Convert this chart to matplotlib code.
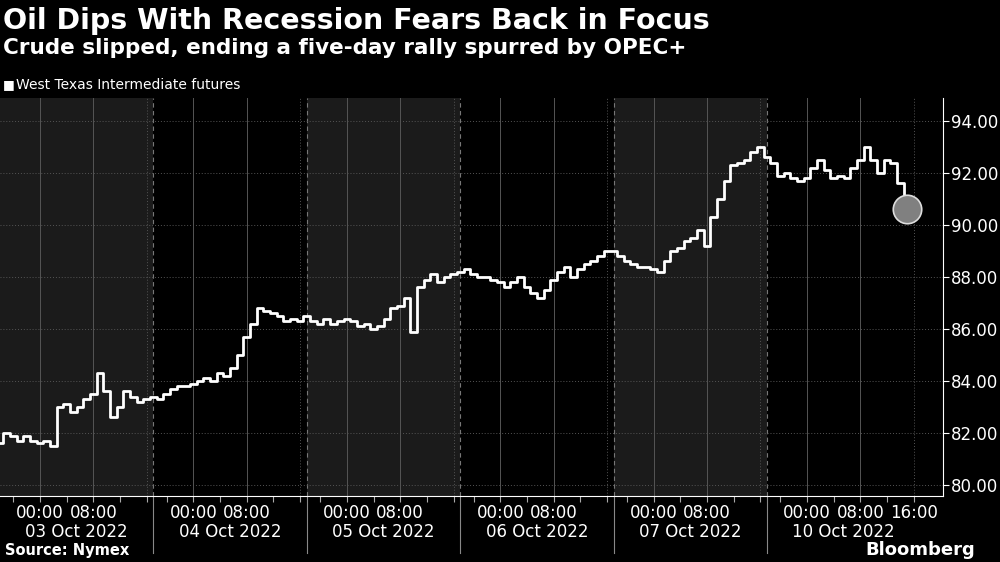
import matplotlib
matplotlib.use("Agg")
import matplotlib.pyplot as plt
import numpy as np

days = ["03 Oct 2022", "04 Oct 2022", "05 Oct 2022", "06 Oct 2022", "07 Oct 2022", "10 Oct 2022"]
hours_per_day = 23  # session 18:00 -> 17:00
prices = [
    81.6, 82.0, 81.9, 81.7, 81.9, 81.7, 81.6, 81.7, 81.5, 83.0, 83.1, 82.8, 83.0, 83.3, 83.5, 84.3, 83.6, 82.6, 83.0, 83.6, 83.4, 83.2, 83.3,
    83.4, 83.3, 83.5, 83.7, 83.8, 83.8, 83.9, 84.0, 84.1, 84.0, 84.3, 84.2, 84.5, 85.0, 85.7, 86.2, 86.8, 86.7, 86.6, 86.5, 86.3, 86.4, 86.3,
    86.5, 86.3, 86.2, 86.4, 86.2, 86.3, 86.4, 86.3, 86.1, 86.2, 86.0, 86.1, 86.4, 86.8, 86.9, 87.2, 85.9, 87.6, 87.9, 88.1, 87.8, 88.0, 88.1,
    88.2, 88.3, 88.1, 88.0, 88.0, 87.9, 87.8, 87.6, 87.8, 88.0, 87.6, 87.4, 87.2, 87.5, 87.9, 88.2, 88.4, 88.0, 88.3, 88.5, 88.6, 88.8, 89.0,
    89.0, 88.8, 88.6, 88.5, 88.4, 88.4, 88.3, 88.2, 88.6, 89.0, 89.1, 89.4, 89.5, 89.8, 89.2, 90.3, 91.0, 91.7, 92.3, 92.4, 92.5, 92.8, 93.0,
    92.6, 92.4, 91.9, 92.0, 91.8, 91.7, 91.8, 92.2, 92.5, 92.1, 91.8, 91.9, 91.8, 92.2, 92.5, 93.0, 92.5, 92.0, 92.5, 92.4, 91.6, 90.6,
]
yticks = [80, 82, 84, 86, 88, 90, 92, 94]

fig = plt.figure(figsize=(10, 5.62), dpi=100, facecolor="black")
ax = fig.add_axes([0, 0.1174, 0.943, 0.7082])
ax.set_facecolor("black")
x = np.arange(len(prices))
xmax = 943 / 6.67
ax.set_xlim(0, xmax)
ax.set_ylim(79.58, 94.88)

for i in range(len(days)):
    s = i * hours_per_day
    if i % 2 == 0:
        ax.axvspan(s, s + hours_per_day, color="#1b1b1b", lw=0, zorder=0)
    if i > 0:
        ax.axvline(s, color="#777777", lw=0.8, ls=(0, (4, 3)), zorder=1)
    ax.axvline(s + 6, color="#555555", lw=0.7, zorder=1)
    ax.axvline(s + 14, color="#555555", lw=0.7, zorder=1)
    ax.axvline(s + 22, color="#555555", lw=0.7, ls=(0, (1, 2)), zorder=1)
for y in yticks:
    ax.axhline(y, color="#555555", lw=0.7, ls=(0, (1, 2)), zorder=1)

ax.step(x, prices, where="mid", color="white", lw=2.0, zorder=3)
ax.scatter([x[-1]], [prices[-1]], s=420, color="#808080", edgecolors="#dddddd", linewidths=1.2, zorder=4)

for sp in ["top", "left"]:
    ax.spines[sp].set_visible(False)
ax.spines["right"].set_color("white")
ax.spines["bottom"].set_color("white")
ax.yaxis.tick_right()
ax.set_yticks(yticks)
ax.set_yticklabels([f"{v:.2f}" for v in yticks], color="white", fontsize=12)
ax.tick_params(axis="y", colors="white", length=4, pad=2)
minor = [d * hours_per_day + h for d in range(len(days)) for h in range(2, 23, 4)]
ax.set_xticks(minor)
ax.set_xticklabels([])
ax.tick_params(axis="x", colors="#aaaaaa", length=4)

for i, d in enumerate(days):
    s = i * hours_per_day
    times = [(6, "00:00"), (14, "08:00")]
    if i == len(days) - 1:
        times.append((22, "16:00"))
    for h, t in times:
        ax.text(s + h, 79.58 - 0.3, t, ha="center", va="top", color="white", fontsize=12)
    ax.text(s + 11.5, 79.58 - 1.05, d, ha="center", va="top", color="white", fontsize=12)
    if i > 0:
        ax.plot([s, s], [79.58, 77.4], color="#888888", lw=0.8, clip_on=False)

fig.text(0.003, 0.962, "Oil Dips With Recession Fears Back in Focus", color="white", fontsize=20.5, fontweight="bold", va="center")
fig.text(0.003, 0.915, "Crude slipped, ending a five-day rally spurred by OPEC+", color="white", fontsize=15.5, fontweight="bold", va="center")
fig.text(0.003, 0.849, "\u25A0", color="white", fontsize=9, va="center")
fig.text(0.016, 0.849, "West Texas Intermediate futures", color="white", fontsize=10, va="center")
fig.text(0.005, 0.02, "Source: Nymex", color="white", fontsize=10.5, fontweight="bold", va="center")
fig.text(0.975, 0.022, "Bloomberg", color="white", fontsize=13, fontweight="bold", va="center", ha="right")

fig.savefig("out.png", dpi=100, facecolor="black")
